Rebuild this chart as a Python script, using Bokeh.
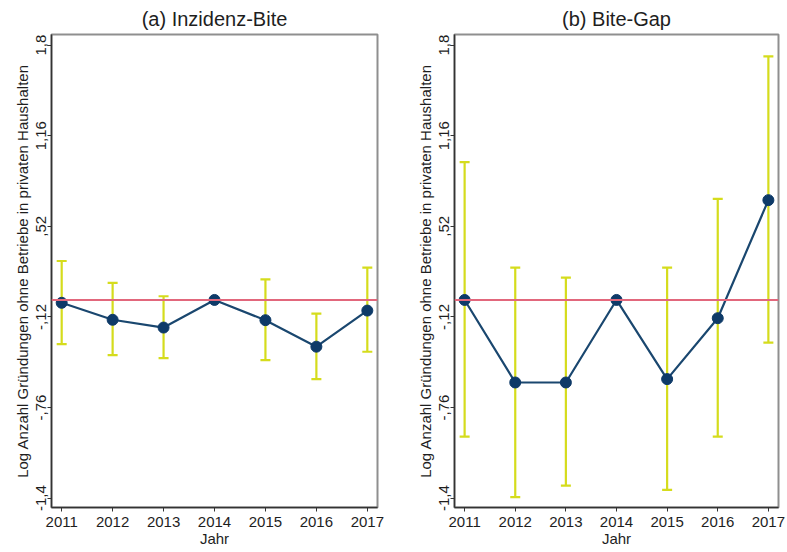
from bokeh.plotting import figure
from bokeh.models import ColumnDataSource, Whisker, TeeHead, Span, FixedTicker, Range1d
from bokeh.layouts import row
from bokeh.embed import file_html
from bokeh.resources import INLINE

years = [2011, 2012, 2013, 2014, 2015, 2016, 2017]

a_coef = [-0.02, -0.14, -0.195, 0.0, -0.143, -0.33, -0.075]
a_lo = [-0.312, -0.39, -0.411, None, -0.425, -0.559, -0.366]
a_hi = [0.275, 0.12, 0.026, None, 0.146, -0.096, 0.228]

b_coef = [0.0, -0.583, -0.583, 0.0, -0.559, -0.129, 0.705]
b_lo = [-0.965, -1.393, -1.311, None, -1.341, -0.965, -0.301]
b_hi = [0.973, 0.228, 0.157, None, 0.228, 0.714, 1.72]

y_ticks = [-1.4, -0.76, -0.12, 0.52, 1.16, 1.8]
y_tick_labels = ["-1,4", "-,76", "-,12", ",52", "1,16", "1,8"]

titles = ["(a) Inzidenz-Bite", "(b) Bite-Gap"]
y_label = "Log Anzahl Gründungen ohne Betriebe in privaten Haushalten"
x_label = "Jahr"

FONT = "Liberation Sans"
NAVY = "#1a476f"
MARK = "#0e3a68"
LIME = "#d5dc1c"
RED = "#e2677c"
TXT = "#1e1e1e"


def make_panel(title, coef, lo, hi, width, border_left, border_right):
    p = figure(width=width, height=552, output_backend="svg", toolbar_location=None,
               x_range=Range1d(2010.8, 2017.2), y_range=Range1d(-1.466, 1.875),
               min_border_left=border_left, min_border_right=border_right,
               min_border_top=33, min_border_bottom=45, title=title)
    p.title.text_font = FONT
    p.title.text_font_size = "20px"
    p.title.text_font_style = "normal"
    p.title.align = "center"
    p.title.text_color = TXT
    p.xgrid.visible = False
    p.ygrid.visible = False
    p.outline_line_color = "#8f8f8f"
    p.outline_line_width = 2
    p.background_fill_color = "white"
    p.border_fill_color = "white"

    for ax in (p.xaxis[0], p.yaxis[0]):
        ax.axis_line_color = "#333333"
        ax.axis_line_width = 1.5
        ax.major_tick_line_color = "#333333"
        ax.major_tick_out = 4
        ax.major_tick_in = 0
        ax.minor_tick_line_color = None
        ax.major_label_text_font = FONT
        ax.axis_label_text_font = FONT
        ax.axis_label_text_font_style = "normal"
        ax.major_label_text_color = TXT
        ax.axis_label_text_color = TXT

    p.xaxis.ticker = FixedTicker(ticks=years)
    p.xaxis.major_label_text_font_size = "15px"
    p.xaxis.axis_label = x_label
    p.xaxis.axis_label_text_font_size = "15px"
    p.xaxis.axis_label_standoff = 0
    p.xaxis.major_label_standoff = 5

    p.yaxis.ticker = FixedTicker(ticks=y_ticks)
    p.yaxis.major_label_overrides = {t: l for t, l in zip(y_ticks, y_tick_labels)}
    p.yaxis.major_label_orientation = "vertical"
    p.yaxis.major_label_text_font_size = "15px"
    p.yaxis.major_label_standoff = 1
    p.yaxis.axis_label = y_label
    p.yaxis.axis_label_text_font_size = "15px"
    p.yaxis.axis_label_standoff = 3

    # error bars (none for the reference year)
    ex = [y for y, l in zip(years, lo) if l is not None]
    el = [l for l in lo if l is not None]
    eh = [h for h in hi if h is not None]
    esrc = ColumnDataSource(dict(x=ex, lo=el, hi=eh))
    w = Whisker(base="x", lower="lo", upper="hi", source=esrc,
                line_color=LIME, line_width=2.2,
                upper_head=TeeHead(size=10, line_color=LIME, line_width=2.2),
                lower_head=TeeHead(size=10, line_color=LIME, line_width=2.2))
    p.add_layout(w)

    p.add_layout(Span(location=0, dimension="width", line_color=RED, line_width=2))

    src = ColumnDataSource(dict(x=years, y=coef))
    p.line("x", "y", source=src, line_color=NAVY, line_width=2.2)
    p.scatter("x", "y", source=src, size=11, fill_color=MARK, line_color=MARK)
    return p


p1 = make_panel(titles[0], a_coef, a_lo, a_hi, 395, 51, 18)
p2 = make_panel(titles[1], b_coef, b_lo, b_hi, 392, 59, 9)

layout = row(p1, p2)
open("out.html", "w").write(file_html(layout, INLINE))
